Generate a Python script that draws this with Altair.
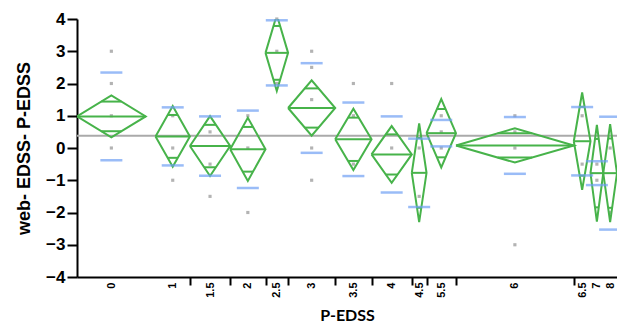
import math
import altair as alt
import pandas as pd

# ---- data ----
labels = ["0", "1", "1.5", "2", "2.5", "3", "3.5", "4", "4.5", "5.5", "6", "6.5", "7", "8"]
widths = [70, 35, 41, 36, 23, 48, 37, 41, 15, 30, 120, 17, 13, 14]     # diamond widths (prop. to n)
gap_before = [0, 10, 0, 0, 0, 0, 0, 0, 0, 0, 0, 0, 0, 0]
means = [0.98, 0.36, 0.06, -0.04, 2.95, 1.24, 0.27, -0.20, -0.77, 0.46, 0.08, 0.21, -0.78, -0.78]
sds = [1.36, 0.90, 0.92, 1.20, 1.01, 1.39, 1.14, 1.18, 1.06, 0.41, 0.88, 1.06, 0.37, 1.75]
ci_half = [0.65, 0.94, 0.93, 0.98, 1.18, 0.86, 0.95, 0.88, 1.53, 1.06, 0.53, 1.51, 1.50, 1.52]
grand_mean = 0.38
obs_group = ["0", "0", "0", "0", "1", "1", "1", "1.5", "1.5", "1.5", "2", "2", "2",
             "2.5", "2.5", "2.5", "3", "3", "3", "3", "3", "3.5", "3.5", "3.5",
             "4", "4", "4.5", "4.5", "5.5", "5.5", "5.5", "6", "6", "6", "6",
             "6.5", "6.5", "7", "7", "8", "8"]
obs_value = [3, 2, 1, 0, 1, 0, -1, 0.5, -0.5, -1.5, 1, 0, -2,
             4, 3, 2, 3, 2.5, 1.5, 0, -1, 2, 1, -0.5,
             2, 0, 0, -1.5, 1, 0.5, 0, 1, 0.5, 0, -3,
             1, -0.5, -0.5, -1, 0, -2]

# ---- derived tables ----
starts, pos = [], 0
for w, g in zip(widths, gap_before):
    pos += g
    starts.append(pos)
    pos += w
total = pos
ends = [s + w for s, w in zip(starts, widths)]
centers = [(s + e) / 2 for s, e in zip(starts, ends)]
center_of = dict(zip(labels, centers))

groups = pd.DataFrame({"label": labels, "x0": starts, "x1": ends, "xc": centers,
                       "mean": means, "sd": sds, "ci": ci_half})

poly_rows = []
for r in groups.itertuples():
    verts = [(r.x0, r.mean), (r.xc, r.mean + r.ci), (r.x1, r.mean), (r.xc, r.mean - r.ci), (r.x0, r.mean)]
    for k, (x, y) in enumerate(verts):
        poly_rows.append({"label": r.label, "k": k, "x": x, "y": y})
poly = pd.DataFrame(poly_rows)

ov_rows, sd_rows = [], []
f = 1 / math.sqrt(2)
for r in groups.itertuples():
    half_w = (r.x1 - r.x0) / 2 * (1 - f)
    for s in (1, -1):
        ov_rows.append({"label": r.label, "xa": r.xc - half_w, "xb": r.xc + half_w, "y": r.mean + s * r.ci * f})
        sd_rows.append({"label": r.label, "xc": r.xc, "y": r.mean + s * r.sd})
ov = pd.DataFrame(ov_rows)
sdl = pd.DataFrame(sd_rows)

obs = pd.DataFrame({"label": obs_group, "value": obs_value})
obs["xc"] = obs["label"].map(center_of)

gm = pd.DataFrame({"y": [grand_mean]})

# ---- axes ----
boundaries = starts[2:12]
tick_values = centers + boundaries
label_expr = "".join(f"datum.value == {c} ? '{l}' : " for c, l in zip(centers, labels)) + "''"
tick_test = " || ".join(f"datum.value == {b}" for b in boundaries)

xscale = alt.Scale(domain=[0, total], nice=False, zero=False)
xaxis = alt.Axis(values=tick_values, labelExpr=label_expr, labelAngle=270,
                 labelAlign="right", labelBaseline="middle", labelFont="Liberation Sans",
                 labelFontSize=11, labelFontWeight="bold", labelColor="black",
                 labelOverlap=False, labelFlush=False, labelBound=False, labelPadding=-3,
                 tickSize=8, tickWidth=2, tickColor="black",
                 tickOpacity={"condition": {"test": tick_test, "value": 1}, "value": 0},
                 domainColor="black", domainWidth=2, grid=False,
                 title="P-EDSS", titleFont="Lato", titleFontSize=16, titleFontWeight="bold",
                 titleColor="black", titlePadding=10)
yscale = alt.Scale(domain=[-4, 4], nice=False, zero=False)
yaxis = alt.Axis(values=list(range(-4, 5)), labelFont="Liberation Sans", labelFontSize=17,
                 labelFontWeight="bold", labelColor="black", labelPadding=2,
                 tickSize=10, tickWidth=2, tickColor="black",
                 domainColor="black", domainWidth=2, grid=False,
                 title="web- EDSS- P-EDSS", titleFont="Liberation Sans", titleFontSize=18,
                 titleFontWeight="bold", titleColor="black", titlePadding=12)

def X(field):
    return alt.X(f"{field}:Q", scale=xscale, axis=xaxis)

def Y(field):
    return alt.Y(f"{field}:Q", scale=yscale, axis=yaxis)

GREEN = "#47b34a"
BLUE = "#6f9ff3"

gm_layer = alt.Chart(gm).mark_rule(color="#aaaaaa", strokeWidth=2).encode(y=Y("y"))
pts = alt.Chart(obs).mark_square(size=10, color="#a6a6a6", opacity=0.85).encode(x=X("xc"), y=Y("value"))
diam = alt.Chart(poly).mark_line(color=GREEN, strokeWidth=2, clip=True).encode(
    x=X("x"), y=Y("y"), detail="label:N", order="k:Q")
mean_l = alt.Chart(groups).mark_rule(color=GREEN, strokeWidth=2, clip=True).encode(
    x=X("x0"), x2="x1:Q", y=Y("mean"))
ov_l = alt.Chart(ov).mark_rule(color=GREEN, strokeWidth=2, clip=True).encode(
    x=X("xa"), x2="xb:Q", y=Y("y"))
sd_l = alt.Chart(sdl).mark_tick(color=BLUE, orient="horizontal", size=22, thickness=2.5, clip=True).encode(
    x=X("xc"), y=Y("y"))

chart = alt.layer(gm_layer, pts, diam, mean_l, ov_l, sd_l).properties(
    width=540, height=258,
    autosize=alt.AutoSizeParams(type="none"),
    padding={"left": 69, "top": 11, "right": 0, "bottom": 47},
).configure_view(stroke=None)

chart.save("out.html", embed_options={"renderer": "svg", "actions": False})
